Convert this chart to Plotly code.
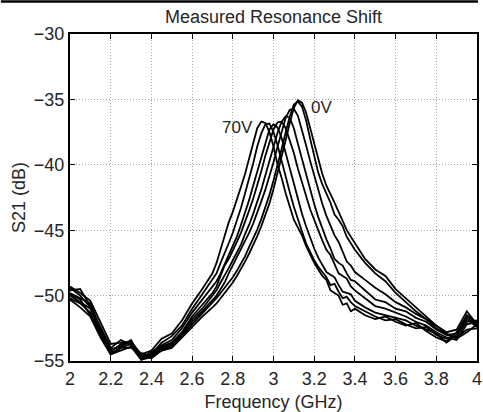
import plotly.graph_objects as go

# Frequency grid (GHz)
freq = [2.00, 2.05, 2.10, 2.15, 2.20, 2.25, 2.30, 2.35, 2.40, 2.45, 2.50, 2.55, 2.60, 2.65, 2.70,
        2.72, 2.74, 2.76, 2.78, 2.80, 2.82, 2.84, 2.86, 2.88, 2.90, 2.92, 2.94, 2.96, 2.98, 3.00,
        3.02, 3.04, 3.06, 3.08, 3.10, 3.12, 3.14, 3.16, 3.18, 3.20, 3.22, 3.24, 3.26, 3.28, 3.30,
        3.32, 3.34, 3.36, 3.38, 3.40,
        3.45, 3.50, 3.55, 3.60, 3.65, 3.70, 3.75, 3.80, 3.85, 3.90, 3.95, 4.00]

# S21 (dB) per bias voltage
s21_70V = [-49.3, -49.8, -50.4, -52.0, -53.7, -53.6, -53.5, -54.5, -54.2, -53.3, -52.9, -51.9, -50.6, -49.5, -48.3,
           -47.5, -46.4, -45.4, -44.4, -43.6, -42.7, -41.7, -40.7, -39.6, -38.3, -37.2, -36.7, -36.8, -37.5, -38.6,
           -40.0, -41.0, -42.2, -43.2, -44.2, -44.8, -45.4, -46.2, -46.9, -47.5, -48.0, -48.5, -48.8, -49.6, -49.8,
           -50.0, -50.7, -50.6, -51.2, -51.0,
           -51.5, -51.8, -51.6, -52.0, -52.3, -52.1, -52.7, -53.2, -53.5, -52.8, -51.6, -52.3]
s21_60V = [-49.6, -49.5, -50.8, -52.4, -54.0, -53.4, -53.8, -54.6, -54.5, -53.6, -53.1, -52.3, -51.0, -49.9, -48.7,
           -48.3, -47.5, -46.8, -46.0, -45.2, -44.3, -43.3, -42.2, -41.1, -39.9, -38.6, -37.6, -36.9, -36.85, -37.5,
           -38.5, -39.7, -41.0, -42.1, -43.2, -44.2, -45.1, -46.0, -46.7, -47.3, -47.8, -48.2, -48.6, -49.2, -49.1,
           -49.7, -50.2, -50.1, -50.5, -50.8,
           -51.2, -51.6, -51.9, -51.8, -52.2, -52.5, -52.4, -53.0, -53.3, -53.1, -52.0, -51.9]
s21_50V = [-49.8, -50.2, -50.6, -52.6, -54.2, -53.8, -53.6, -54.8, -54.3, -53.8, -53.4, -52.5, -51.3, -50.3, -49.3,
           -48.9, -48.3, -47.6, -46.9, -46.2, -45.5, -44.6, -43.7, -42.7, -41.6, -40.5, -39.3, -38.2, -37.3, -36.9,
           -37.15, -37.95, -39.1, -40.35, -41.55, -42.7, -43.75, -44.7, -45.6, -46.4, -47.1, -47.6, -48.2, -48.4, -48.6,
           -49.2, -49.7, -49.8, -49.9, -50.4,
           -50.9, -51.3, -51.5, -51.7, -51.9, -52.3, -52.6, -52.9, -53.6, -53.0, -51.8, -52.4]
s21_40V = [-50.0, -50.5, -51.0, -52.8, -54.4, -54.0, -53.7, -54.7, -54.6, -53.9, -53.6, -52.8, -51.6, -50.7, -49.8,
           -49.3, -48.5, -47.7, -47.2, -46.6, -45.9, -45.2, -44.4, -43.5, -42.6, -41.6, -40.5, -39.3, -38.3, -37.3,
           -36.75, -36.7, -37.2, -38.1, -39.1, -40.3, -41.35, -42.4, -43.4, -44.2, -45.05, -45.8, -46.5, -46.9, -47.6,
           -48.3, -48.5, -48.7, -49.3, -49.6,
           -50.2, -50.8, -51.0, -51.3, -51.6, -52.0, -52.3, -52.8, -53.2, -53.4, -52.2, -52.0]
s21_30V = [-49.4, -50.0, -50.9, -52.5, -54.1, -53.9, -53.4, -54.9, -54.4, -54.0, -53.7, -52.9, -51.8, -51.0, -50.0,
           -49.6, -49.0, -48.5, -47.9, -47.3, -46.7, -46.1, -45.3, -44.6, -43.75, -42.9, -41.9, -40.8, -39.7, -38.6,
           -37.55, -36.7, -36.3, -36.4, -37.2, -38.4, -39.6, -40.8, -41.95, -43.0, -44.0, -44.9, -45.7, -46.4, -47.2,
           -47.5, -47.7, -48.3, -48.8, -48.9,
           -49.6, -50.3, -50.5, -51.0, -51.2, -51.7, -52.0, -52.6, -53.0, -52.9, -51.5, -52.1]
s21_20V = [-50.2, -50.6, -51.3, -53.0, -54.5, -54.2, -53.9, -54.9, -54.7, -54.1, -53.8, -53.0, -52.0, -51.2, -50.3,
           -50.0, -49.5, -49.0, -48.3, -47.7, -47.1, -46.5, -45.9, -45.2, -44.5, -43.7, -42.8, -41.9, -40.9, -39.8,
           -38.6, -37.5, -36.4, -35.8, -35.72, -36.25, -37.3, -38.5, -39.7, -40.8, -42.0, -43.0, -43.9, -44.7, -45.4,
           -45.9, -46.7, -47.4, -47.7, -48.2,
           -48.8, -49.4, -49.9, -50.5, -50.9, -51.4, -51.8, -52.3, -52.8, -52.6, -51.2, -52.2]
s21_10V = [-49.9, -50.3, -51.5, -53.1, -54.3, -53.7, -53.5, -54.6, -54.8, -54.2, -53.9, -53.1, -52.2, -51.4, -50.6,
           -50.2, -49.8, -49.4, -49.0, -48.6, -48.1, -47.6, -47.0, -46.3, -45.65, -44.95, -44.15, -43.3, -42.3, -41.2,
           -40.05, -38.8, -37.5, -36.3, -35.4, -35.15, -35.55, -36.6, -38.0, -39.4, -40.6, -41.5, -42.2, -42.9, -43.8,
           -44.2, -44.7, -45.5, -46.0, -46.5,
           -47.5, -48.3, -48.9, -49.8, -50.5, -51.2, -51.8, -52.5, -53.0, -53.2, -52.6, -52.5]
s21_0V = [-50.3, -50.9, -51.6, -53.2, -54.5, -54.0, -54.0, -54.4, -54.6, -54.2, -54.0, -53.2, -52.4, -51.6, -50.9,
          -50.6, -50.2, -49.8, -49.4, -49.0, -48.5, -48.0, -47.4, -46.8, -46.15, -45.45, -44.7, -43.8, -42.95, -41.85,
          -40.65, -39.4, -38.1, -36.8, -35.65, -35.07, -35.25, -36.0, -37.15, -38.4, -39.6, -40.7, -41.6, -42.2, -42.9,
          -43.6, -44.3, -45.0, -45.5, -46.0,
          -47.2, -48.0, -48.5, -49.5, -50.2, -50.9, -51.6, -52.3, -52.9, -53.3, -52.8, -52.2]

voltages = ["0V", "10V", "20V", "30V", "40V", "50V", "60V", "70V"]
series = [s21_0V, s21_10V, s21_20V, s21_30V, s21_40V, s21_50V, s21_60V, s21_70V]

x_ticks = [2.0, 2.2, 2.4, 2.6, 2.8, 3.0, 3.2, 3.4, 3.6, 3.8, 4.0]
y_ticks = [-55, -50, -45, -40, -35, -30]

FONT = "Liberation Sans, Arial, Helvetica, sans-serif"
TXT = "#262626"

fig = go.Figure()
for name, ys in zip(voltages, series):
    fig.add_trace(go.Scatter(x=freq, y=ys, mode="lines", name=name,
                             line=dict(color="black", width=1.8),
                             showlegend=False, hoverinfo="skip"))

fig.update_layout(
    width=483, height=412,
    margin=dict(l=70, r=1, t=34, b=51, pad=0),
    paper_bgcolor="white", plot_bgcolor="white",
    font=dict(family=FONT, size=18, color=TXT),
    title=dict(text="Measured Resonance Shift", x=0.5, xref="paper", xanchor="center",
               y=1 - 17 / 412, yref="container", yanchor="middle",
               font=dict(family=FONT, size=18, color=TXT)),
    showlegend=False,
)

axis_common = dict(ticks="inside", ticklen=5, tickcolor="black", tickwidth=1,
                   showline=True, linecolor="black", linewidth=2, mirror="ticks",
                   showgrid=True, gridcolor="#a8a8a8", griddash="1px,2px", gridwidth=1,
                   zeroline=False, ticklabeloverflow="allow",
                   tickfont=dict(family=FONT, size=18, color=TXT))

fig.update_xaxes(range=[2, 4], tickmode="array", tickvals=x_ticks,
                 ticktext=[("%g" % v) for v in x_ticks],
                 title=dict(text="Frequency (GHz)", standoff=8,
                            font=dict(family=FONT, size=18, color=TXT)),
                 **axis_common)
fig.update_yaxes(range=[-55, -30], tickmode="array", tickvals=y_ticks,
                 title=dict(text="S21 (dB)", standoff=4,
                            font=dict(family=FONT, size=18, color=TXT)),
                 **axis_common)

fig.add_annotation(x=2.91, y=-37.15, text="70V", showarrow=False, xanchor="right", yanchor="middle",
                   font=dict(family=FONT, size=17, color=TXT))
fig.add_annotation(x=3.172, y=-35.62, text="0V", showarrow=False, xanchor="left", yanchor="middle",
                   font=dict(family=FONT, size=17, color=TXT))

# thin border line at the very top of the picture
fig.add_shape(type="line", xref="paper", yref="paper", x0=-70 / 412, x1=1 + 1 / 412,
              y0=1 + 32.5 / 327, y1=1 + 32.5 / 327, line=dict(color="black", width=2.5))

fig.write_html("out.html", config={"displayModeBar": False},
               post_script="document.body.style.margin='0';")
